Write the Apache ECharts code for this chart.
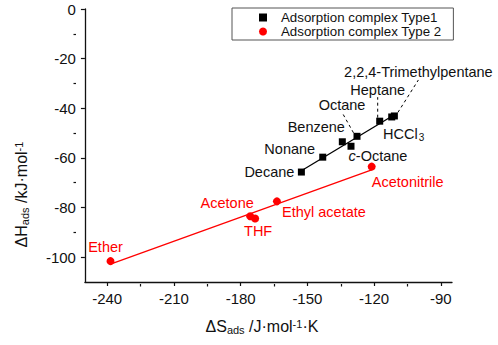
<!DOCTYPE html>
<html>
<head>
<meta charset="utf-8">
<script src="https://cdn.jsdelivr.net/npm/echarts@6/dist/echarts.min.js"></script>
<style>
  html, body { margin: 0; padding: 0; background: #fff; }
  #main { width: 498px; height: 345px; }
</style>
</head>
<body>
<div id="main"></div>
<script>
// Type 1 adsorption complexes (black squares)
var type1Names = ['Decane', 'Nonane', 'Benzene', 'c-Octane', 'Octane', 'Heptane', 'HCCl3', '2,2,4-Trimethylpentane'];
var type1S = [-152.7, -143.1, -134.3, -130.4, -127.7, -117.5, -112.1, -110.9];
var type1H = [-65.7, -59.7, -53.5, -55.3, -51.3, -45.2, -43.5, -43.1];

// Type 2 adsorption complexes (red circles)
var type2Names = ['Ether', 'Acetone', 'THF', 'Ethyl acetate', 'Acetonitrile'];
var type2S = [-238.5, -175.7, -173.5, -163.7, -121.1];
var type2H = [-101.6, -83.5, -84.4, -77.5, -63.5];

// tick labels
var xTicks = [-240, -210, -180, -150, -120, -90];
var xMinor = [-225, -195, -165, -135, -105];
var yTicks = [0, -20, -40, -60, -80, -100];
var yMinor = [-10, -30, -50, -70, -90];

// label placement (pixel offsets from the point) and leader lines
var type1LabelOffset = [[-32, 0], [-33, -8], [-26, -14], [27, 10], [-15, -31], [-2, -31], [12, 18], [24, -43]];
var type1Leader = [false, false, false, false, true, true, false, true];
var type2LabelOffset = [[-5, -14], [-23, -13], [3, 13], [47, 11], [36, 15]];

var FONT = 'Arial, "Liberation Sans", sans-serif';

function fitLine(xs, ys) {
    var n = xs.length, sx = 0, sy = 0, sxx = 0, sxy = 0;
    for (var i = 0; i < n; i++) {
        sx += xs[i]; sy += ys[i]; sxx += xs[i] * xs[i]; sxy += xs[i] * ys[i];
    }
    var b = (n * sxy - sx * sy) / (n * sxx - sx * sx);
    var a = (sy - b * sx) / n;
    var x0 = Math.min.apply(null, xs), x1 = Math.max.apply(null, xs);
    return [[x0, a + b * x0], [x1, a + b * x1]];
}

function labelText(name) {
    if (name === 'HCCl3') return '{m|HCCl}{s|3}';
    if (name === 'c-Octane') return '{i|c}{m|-Octane}';
    return '{m|' + name + '}';
}

var labelRich = {
    m: { fontSize: 14.5, fontFamily: FONT, lineHeight: 16, verticalAlign: 'top' },
    i: { fontSize: 14.5, fontFamily: FONT, fontStyle: 'italic', lineHeight: 16, verticalAlign: 'top' },
    s: { fontSize: 10, fontFamily: FONT, lineHeight: 10, padding: [12, 0, 0, 1], verticalAlign: 'bottom' }
};

var nameRich = {
    t: { fontSize: 16, color: '#111', fontFamily: FONT, lineHeight: 17 },
    sub: { fontSize: 11, color: '#111', fontFamily: FONT, lineHeight: 11, padding: [11, 0, 0, 0], verticalAlign: 'bottom' },
    sup: { fontSize: 11, color: '#111', fontFamily: FONT, lineHeight: 11, padding: [0, 0, 11, 0], verticalAlign: 'top' },
    gapY: { width: 98 },
    gapX: { width: 13 }
};

var type1Data = type1Names.map(function (n, i) {
    return {
        name: n,
        value: [type1S[i], type1H[i]],
        labelLine: { show: type1Leader[i] }
    };
});
var type2Data = type2Names.map(function (n, i) {
    return { name: n, value: [type2S[i], type2H[i]] };
});

var myChart = echarts.init(document.getElementById('main'), null, { renderer: 'svg' });

var option = {
    animation: false,
    textStyle: { fontFamily: FONT },
    grid: { left: 76, top: 9, width: 376, height: 275 },
    legend: {
        orient: 'vertical',
        left: 232,
        top: 8,
        padding: [3, 12, 2, 27],
        itemGap: 1,
        itemWidth: 8,
        itemHeight: 8,
        borderColor: '#555',
        borderWidth: 1,
        borderRadius: 0,
        textStyle: { fontSize: 13.3, color: '#111', fontFamily: FONT, padding: [0, 0, 0, 9] },
        data: ['Adsorption complex Type1', 'Adsorption complex Type 2']
    },
    xAxis: [{
        type: 'value',
        min: -250,
        max: -85,
        position: 'bottom',
        name: '{t|ΔS}{sub|ads}{t| /J·mol}{sup|-1}{t|·K}{gapX|}',
        nameLocation: 'middle',
        nameGap: 36,
        nameTextStyle: { rich: nameRich },
        axisLine: { onZero: false, lineStyle: { color: '#111', width: 1.3 } },
        axisTick: { inside: false, length: 4, customValues: xTicks, lineStyle: { color: '#111', width: 1.2 } },
        axisLabel: { customValues: xTicks, fontSize: 15, color: '#111', margin: 9, fontFamily: FONT },
        splitLine: { show: false }
    }, {
        // minor ticks, moved down onto the bottom axis line
        type: 'value',
        min: -250,
        max: -85,
        position: 'top',
        offset: -275,
        axisLine: { show: false },
        axisTick: { inside: true, length: 2.5, customValues: xMinor, lineStyle: { color: '#111', width: 1.2 } },
        axisLabel: { show: false },
        splitLine: { show: false }
    }],
    yAxis: [{
        type: 'value',
        min: -110,
        max: 0,
        position: 'left',
        // trailing blank gap pushes the rotated title down, as in the original
        name: '{t|ΔH}{sub|ads}{t| /kJ·mol}{sup|-1}{gapY|}',
        nameLocation: 'middle',
        nameGap: 53,
        nameTextStyle: { rich: nameRich },
        axisLine: { onZero: false, lineStyle: { color: '#111', width: 1.3 } },
        axisTick: { inside: false, length: 4, customValues: yTicks, lineStyle: { color: '#111', width: 1.2 } },
        axisLabel: { customValues: yTicks, fontSize: 15, color: '#111', margin: 9, fontFamily: FONT },
        splitLine: { show: false }
    }, {
        // minor ticks, moved left onto the left axis line
        type: 'value',
        min: -110,
        max: 0,
        position: 'right',
        offset: -376,
        axisLine: { show: false },
        axisTick: { inside: true, length: 2.5, customValues: yMinor, lineStyle: { color: '#111', width: 1.2 } },
        axisLabel: { show: false },
        splitLine: { show: false }
    }],
    series: [
        {
            name: 'Type1 fit',
            type: 'line',
            data: fitLine(type1S, type1H),
            symbol: 'none',
            lineStyle: { color: '#000', width: 1.3 },
            z: 1
        },
        {
            name: 'Type2 fit',
            type: 'line',
            data: fitLine(type2S, type2H),
            symbol: 'none',
            lineStyle: { color: '#ff0000', width: 1.3 },
            z: 1
        },
        {
            name: 'Adsorption complex Type1',
            type: 'scatter',
            symbol: 'rect',
            symbolSize: 7,
            itemStyle: { color: '#000', opacity: 1 },
            data: type1Data,
            z: 3,
            label: {
                show: true,
                position: 'inside',
                color: '#111',
                formatter: function (p) { return labelText(p.name); },
                rich: labelRich
            },
            labelLine: {
                show: false,
                lineStyle: { color: '#000', width: 1, type: [3, 3] }
            },
            labelLayout: function (p) {
                var o = type1LabelOffset[p.dataIndex];
                return { dx: o[0], dy: o[1], hideOverlap: false };
            }
        },
        {
            name: 'Adsorption complex Type 2',
            type: 'scatter',
            symbol: 'circle',
            symbolSize: 8,
            itemStyle: { color: '#ff0000', opacity: 1 },
            data: type2Data,
            z: 3,
            label: {
                show: true,
                position: 'inside',
                color: '#ff0000',
                formatter: function (p) { return labelText(p.name); },
                rich: {
                    m: { fontSize: 14.5, fontFamily: FONT, color: '#ff0000', lineHeight: 16 }
                }
            },
            labelLayout: function (p) {
                var o = type2LabelOffset[p.dataIndex];
                return { dx: o[0], dy: o[1], hideOverlap: false };
            }
        }
    ]
};

myChart.setOption(option);
</script>
</body>
</html>
